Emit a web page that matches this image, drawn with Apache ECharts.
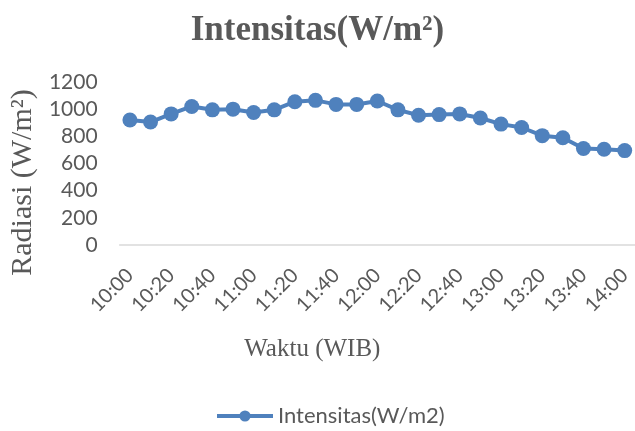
<!DOCTYPE html>
<html lang="en">
<head>
    <meta charset="UTF-8">
    <title>Intensitas</title>
    <script src="https://cdn.jsdelivr.net/npm/echarts@6/dist/echarts.min.js"></script>
</head>
<body style="margin:0;background:#fff;">
    <div id="main" style="width:635px;height:431px;"></div>
    <script type="text/javascript">
        // jam pengukuran, tiap 10 menit
        var waktu = ['10:00', '10:10', '10:20', '10:30', '10:40', '10:50', '11:00', '11:10', '11:20',
            '11:30', '11:40', '11:50', '12:00', '12:10', '12:20', '12:30', '12:40', '12:50',
            '13:00', '13:10', '13:20', '13:30', '13:40', '13:50', '14:00'];
        // radiasi matahari W/m2
        var intensitas = [920, 905, 965, 1020, 995, 1000, 975, 995, 1055, 1065, 1035, 1035, 1060,
            995, 955, 960, 965, 935, 890, 865, 805, 790, 710, 705, 695];
        var yTicks = [0, 200, 400, 600, 800, 1000, 1200];

        var grey = '#595959';
        var myChart = echarts.init(document.getElementById('main'));

        var option = {
            animation: false,
            backgroundColor: '#fff',
            title: {
                text: 'Intensitas(W/m²)',
                left: 'center',
                top: 8,
                textStyle: {
                    fontFamily: 'Liberation Serif',
                    fontWeight: 'bold',
                    fontSize: 35,
                    color: grey
                }
            },
            legend: {
                top: 400,
                left: 210,
                itemWidth: 56,
                itemHeight: 14,
                itemGap: 4,
                lineStyle: { width: 4 },
                textStyle: {
                    fontFamily: 'Lato',
                    fontSize: 22,
                    color: grey
                },
                data: ['Intensitas(W/m2)']
            },
            grid: {
                left: 116,
                top: 82,
                width: 522,
                height: 163
            },
            xAxis: {
                type: 'category',
                data: waktu,
                boundaryGap: true,
                name: 'Waktu (WIB)',
                nameLocation: 'middle',
                nameGap: 92,
                nameTextStyle: {
                    fontFamily: 'Liberation Serif',
                    fontSize: 25,
                    color: grey,
                    padding: [0, 130, 0, 0]
                },
                axisLine: { lineStyle: { color: '#d9d9d9', width: 1.5 } },
                axisTick: { show: false },
                axisLabel: {
                    interval: 1,
                    rotate: 45,
                    margin: 27,
                    fontFamily: 'Lato',
                    fontSize: 20,
                    color: grey
                }
            },
            yAxis: {
                type: 'value',
                min: yTicks[0],
                max: yTicks[yTicks.length - 1],
                interval: 200,
                name: 'Radiasi (W/m²)',
                nameLocation: 'middle',
                nameRotate: 90,
                nameGap: 80,
                nameTextStyle: {
                    fontFamily: 'Liberation Serif',
                    fontSize: 30,
                    color: grey,
                    padding: [0, 38, 0, 0]
                },
                axisLine: { show: false },
                axisTick: { show: false },
                splitLine: { show: false },
                axisLabel: {
                    margin: 22,
                    fontFamily: 'Lato',
                    fontSize: 21,
                    color: grey,
                    formatter: function (v) { return String(v); }
                }
            },
            series: [{
                name: 'Intensitas(W/m2)',
                type: 'line',
                data: intensitas,
                symbol: 'circle',
                symbolSize: 15,
                showSymbol: true,
                showAllSymbol: true,
                lineStyle: { color: '#4f81bd', width: 4 },
                itemStyle: { color: '#4f81bd' }
            }]
        };
        myChart.setOption(option);
    </script>
</body>
</html>
